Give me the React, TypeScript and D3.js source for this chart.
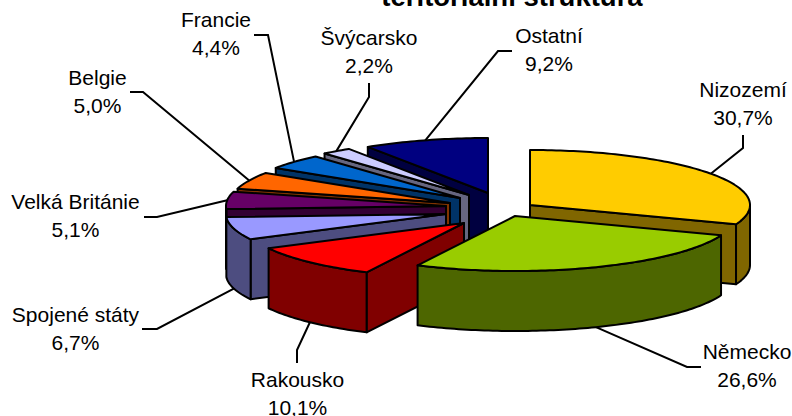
import React from 'react';
import * as d3 from 'd3';

const WIDTH = 792;
const HEIGHT = 416;

// values
const categories = ['Nizozemí', 'Německo', 'Rakousko', 'Spojené státy', 'Velká Británie', 'Belgie', 'Francie', 'Švýcarsko', 'Ostatní'];
const shares = [30.7, 26.6, 10.1, 6.7, 5.1, 5.0, 4.4, 2.2, 9.2];
const titleText = 'teritoriální struktura';

// slice colours, walls are the same hue at half brightness
const topColors = ['#ffcc00', '#99cc00', '#ff0000', '#9999ff', '#660066', '#ff6600', '#0066cc', '#ccccff', '#000080'];
const wallColors = ['#806600', '#4d6600', '#800000', '#4d4d80', '#330033', '#803300', '#003366', '#666680', '#000040'];

// pie geometry
const RX = 220;
const RY = 55;
const DEPTH = 60;
const centre = [492, 209];
// how far each slice is pulled from the centre, x and y
const pullX = [38, 23, -28, -46, -46, -42, -32, -23, -4];
const pullY = [-4, 7, 14, 5, -3, -6, -11, -14, -16];
// label centre and baseline of its first line
const labelX = [743, 747, 297.5, 75.5, 75.5, 97.5, 216, 369, 549];
const labelY = [97, 359, 387, 322, 209, 85, 27, 45, 43];
// leader elbow and end
const elbowX = [743, 687, 297, 157, 157, 143, 268, 369, 498];
const elbowY = [148, 367, 350, 329, 217, 92, 35, 97, 51];
const endX = [743, 701, 297, 142, 144, 130, 254, 369, 512];
const endY = [135, 367, 363, 329, 217, 92, 35, 83, 51];

const fmt = (v: number) => v.toFixed(1).replace('.', ',') + '%';

const pie = d3.pie<number>().sort(null).startAngle(0).endAngle(2 * Math.PI);
const slices = pie(shares);

const lineGen = d3.line();

function ringPoint(i: number, a: number, dz = 0): [number, number] {
  const cx = centre[0] + pullX[i];
  const cy = centre[1] + pullY[i];
  return [cx + RX * Math.sin(a), cy - RY * Math.cos(a) + dz];
}

function arcPoints(i: number, a0: number, a1: number, dz = 0) {
  const n = Math.max(2, Math.ceil((a1 - a0) / 0.02));
  const s = d3.scaleLinear().domain([0, n]).range([a0, a1]);
  return d3.range(n + 1).map(k => ringPoint(i, s(k), dz));
}

function apex(i: number, dz = 0): [number, number] {
  return [centre[0] + pullX[i], centre[1] + pullY[i] + dz];
}

function wallPaths(i: number) {
  const { startAngle: a0, endAngle: a1 } = slices[i];
  const paths: string[] = [];
  // radial walls that face the viewer
  if (a0 >= Math.PI) {
    paths.push(lineGen([apex(i), ringPoint(i, a0), ringPoint(i, a0, DEPTH), apex(i, DEPTH)]) + 'Z');
  }
  if (a1 <= Math.PI) {
    paths.push(lineGen([apex(i), ringPoint(i, a1), ringPoint(i, a1, DEPTH), apex(i, DEPTH)]) + 'Z');
  }
  // outer rim, only the front half
  const r0 = Math.max(a0, Math.PI / 2);
  const r1 = Math.min(a1, (3 * Math.PI) / 2);
  if (r1 > r0) {
    const top = arcPoints(i, r0, r1);
    const bottom = arcPoints(i, r0, r1, DEPTH).reverse();
    paths.push(lineGen([...top, ...bottom]) + 'Z');
  }
  return paths;
}

function topPath(i: number) {
  const { startAngle: a0, endAngle: a1 } = slices[i];
  return lineGen([apex(i), ...arcPoints(i, a0, a1)]) + 'Z';
}

function leaderPath(i: number) {
  const mid = (slices[i].startAngle + slices[i].endAngle) / 2;
  const front = mid > Math.PI / 2 && mid < (3 * Math.PI) / 2;
  const start = ringPoint(i, mid, front ? DEPTH : 0);
  return lineGen([start, [elbowX[i], elbowY[i]], [endX[i], endY[i]]]) ?? '';
}

// back slices first, the two big front ones last
const drawOrder = [8, 7, 6, 5, 4, 3, 2, 0, 1];

export default function App() {
  const font = '"Liberation Sans", Arial, sans-serif';
  return (
    <svg width={WIDTH} height={HEIGHT} style={{ position: 'absolute', left: 0, top: 0 }} fontFamily={font}>
      <rect width={WIDTH} height={HEIGHT} fill="#fff" />
      <text x={512} y={6} textAnchor="middle" fontSize={27.5} fontWeight="bold" fill="#000">{titleText}</text>
      {categories.map((c, i) => (
        <path key={c} d={leaderPath(i)} fill="none" stroke="#000" strokeWidth={2} />
      ))}
      {drawOrder.map(i => (
        <g key={categories[i]} stroke="#000" strokeWidth={2} strokeLinejoin="round">
          {wallPaths(i).map((d, k) => (
            <path key={k} d={d} fill={wallColors[i]} />
          ))}
          <path d={topPath(i)} fill={topColors[i]} />
        </g>
      ))}
      {categories.map((c, i) => (
        <text key={c} textAnchor="middle" fontSize={21} fill="#000">
          <tspan x={labelX[i]} y={labelY[i]}>{c}</tspan>
          <tspan x={labelX[i]} y={labelY[i] + 27.5}>{fmt(shares[i])}</tspan>
        </text>
      ))}
    </svg>
  );
}
